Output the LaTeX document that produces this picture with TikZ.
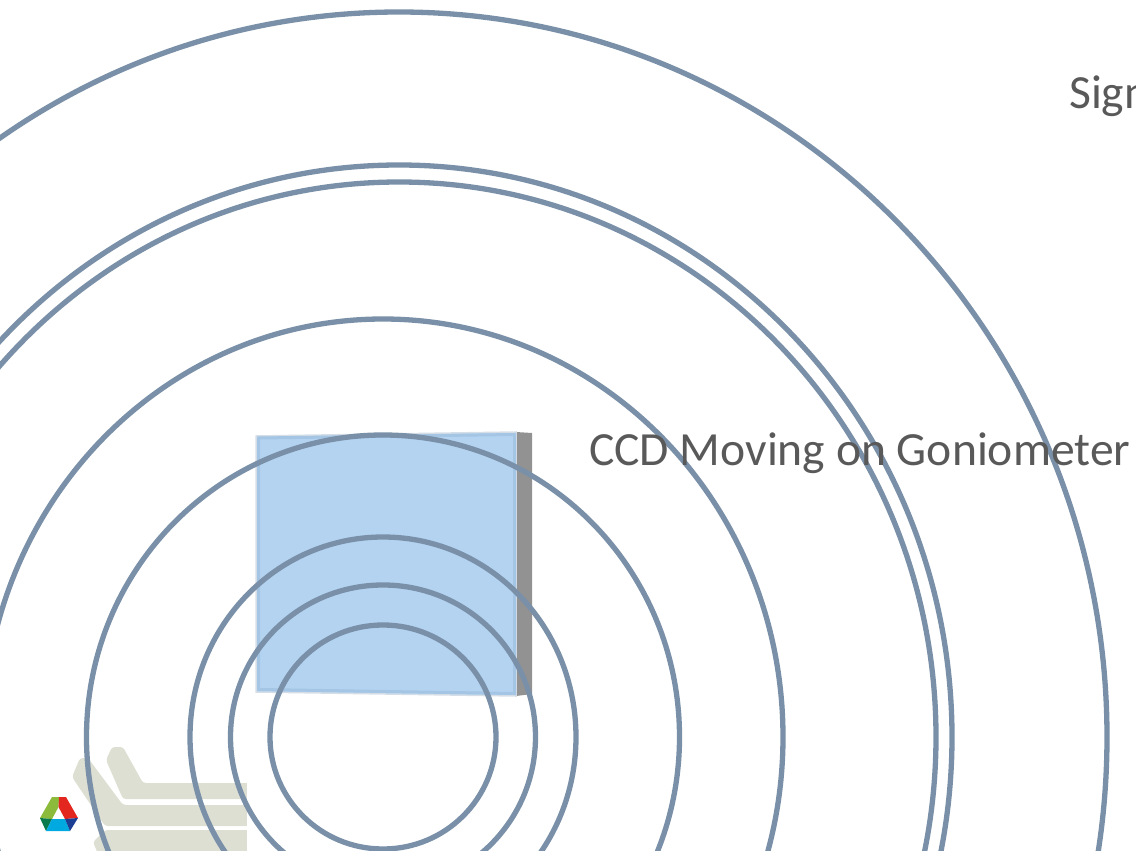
\documentclass[tikz,border=0pt]{standalone}
\usepackage{fontspec}
\setmainfont{Carlito}
\usepackage{xcolor}
\definecolor{ringblue}{HTML}{7A90A8}
\definecolor{labelgray}{HTML}{595959}
\definecolor{panelblue}{HTML}{B3D3F1}
\definecolor{paneledge}{HTML}{A4C5E4}
\definecolor{panelrim}{HTML}{D5DEE6}
\definecolor{panelside}{HTML}{929292}
\definecolor{hallbeige}{HTML}{DEDFD3}
\definecolor{logogreen}{HTML}{8CBB3C}
\definecolor{logored}{HTML}{E3261E}
\definecolor{logoteal}{HTML}{0A7A4A}
\definecolor{logocyan}{HTML}{00A9E0}
\definecolor{logonavy}{HTML}{1C3F94}
\begin{document}
\begin{tikzpicture}[
        x=1pt, y=-1pt,
        ring/.style={draw=ringblue, line width=5.3pt},
        hall/.style={fill=hallbeige, rounded corners=3pt},
        label/.style={text=labelgray, anchor=base west, inner sep=0pt,
                      font=\fontsize{47.6}{56}\selectfont},
    ]
        \clip (0,0) rectangle (1136,851);
        % building
        \path[hall] (106,760) -- (112,747) -- (123,747) -- (143,783) -- (260,783) -- (260,799) -- (123,799) -- cycle;
        \path[hall] (72,777) -- (80,758) -- (88,758) -- (123,805) -- (260,805) -- (260,826) -- (105,826) -- cycle;
        \path[hall] (93,842) -- (105,830) -- (260,830) -- (260,870) -- (105,870) -- cycle;
        \fill[white] (247,740) rectangle (270,851);
        % logo
        \fill[logogreen] (52,797) -- (59,797) -- (58.5,807) -- (52,819) -- (40,818) -- cycle;
        \fill[logored] (59,797) -- (66,797) -- (78,818) -- (65,819) -- (58.5,807) -- cycle;
        \fill[logoteal] (40,818) -- (52,819) -- (46,831) -- cycle;
        \fill[logocyan] (52,819) -- (65,819) -- (70,831) -- (46,831) -- cycle;
        \fill[logonavy] (65,819) -- (78,818) -- (70,831) -- cycle;
        % detector
        \fill[panelside] (516,432) -- (532,433) -- (532,694) -- (516,696) -- cycle;
        \draw[fill=panelblue, draw=panelrim, line width=1.5pt] (256,436) -- (516,432) -- (516,696) -- (256,692) -- cycle;
        \draw[draw=paneledge, line width=3pt] (258.5,438) -- (514.5,434.5) -- (514.5,693.5) -- (258.5,689.5) -- cycle;
        % wavefronts
        \foreach \rx/\ry in {113/112, 152.5/152, 193/200, 296.5/302, 400/418}
            \draw[ring] (383,737) ellipse [x radius=\rx, y radius=\ry];
        \foreach \rx/\ry in {537/555, 553/572, 708/725}
            \draw[ring] (399,737) ellipse [x radius=\rx, y radius=\ry];
        \node[label] (ccd) at (589,465) {CCD Moving on Goniometer};
        \node[label] (signal) at (1069,109) {Sign};
    \end{tikzpicture}
\end{document}
